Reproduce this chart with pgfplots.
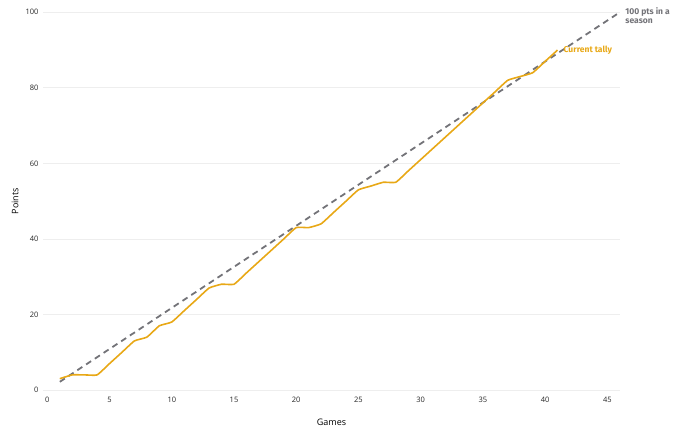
\documentclass[border=0pt]{standalone}
\usepackage{fontspec}
\setmainfont{Open Sans}
\newfontfamily\annot{Fira Sans}
\usepackage{pgfplots}
\pgfplotsset{compat=1.18}
\definecolor{tally}{RGB}{232,168,22}
\definecolor{pace}{RGB}{115,115,120}
\definecolor{gridc}{RGB}{238,238,238}
\begin{document}
\begin{tikzpicture}
\useasboundingbox (-43pt,-42pt) rectangle (637pt,390pt);
\begin{axis}[
  at={(0,0)}, anchor=south west,
  scale only axis, width=577pt, height=377.7pt,
  xmin=-0.35, xmax=46.02, ymin=0, ymax=100,
  axis line style={draw=none},
  xtick={0,5,...,45}, ytick={0,20,...,100},
  major tick length=0pt,
  ymajorgrids, xmajorgrids=false, grid style={draw=gridc, line width=0.8pt},
  tick label style={font=\fontsize{7.5}{9}\selectfont, text=black!85},
  /pgf/number format/assume math mode=true,
  xticklabel style={yshift=-4pt},
  yticklabel style={xshift=-1pt},
  xlabel={Games}, ylabel={Points},
  label style={font=\fontsize{9}{11}\selectfont},
  xlabel style={at={(axis description cs:0.5,0)}, anchor=center, yshift=-32.7pt},
  ylabel style={at={(axis description cs:0,0.5)}, anchor=center, yshift=28pt},
  clip=false,
]
\addplot[pace, line width=1.8pt, dash pattern=on 6pt off 4.5pt] coordinates {(1,2.17) (46,100)};
\addplot[tally, line width=1.6pt, smooth, tension=0.25] coordinates {
(1,3) (2,4) (3,4) (4,4) (5,7) (6,10) (7,13) (8,14) (9,17) (10,18)
(11,21) (12,24) (13,27) (14,28) (15,28) (16,31) (17,34) (18,37) (19,40) (20,43)
(21,43) (22,44) (23,47) (24,50) (25,53) (26,54) (27,55) (28,55) (29,58) (30,61)
(31,64) (32,67) (33,70) (34,73) (35,76) (36,79) (37,82) (38,83) (39,84) (40,87) (41,90)};
\node[anchor=west, inner sep=0pt, xshift=6pt, text=tally, font=\annot\bfseries\fontsize{8.5}{10}\selectfont] at (axis cs:41,90) {Current tally};
\node[anchor=west, inner sep=0pt, xshift=5.5pt, yshift=-3pt, align=left, text=pace, font=\annot\bfseries\fontsize{8.5}{9}\selectfont] at (axis cs:46,100) {100 pts in a\\season};
\end{axis}
\end{tikzpicture}
\end{document}
